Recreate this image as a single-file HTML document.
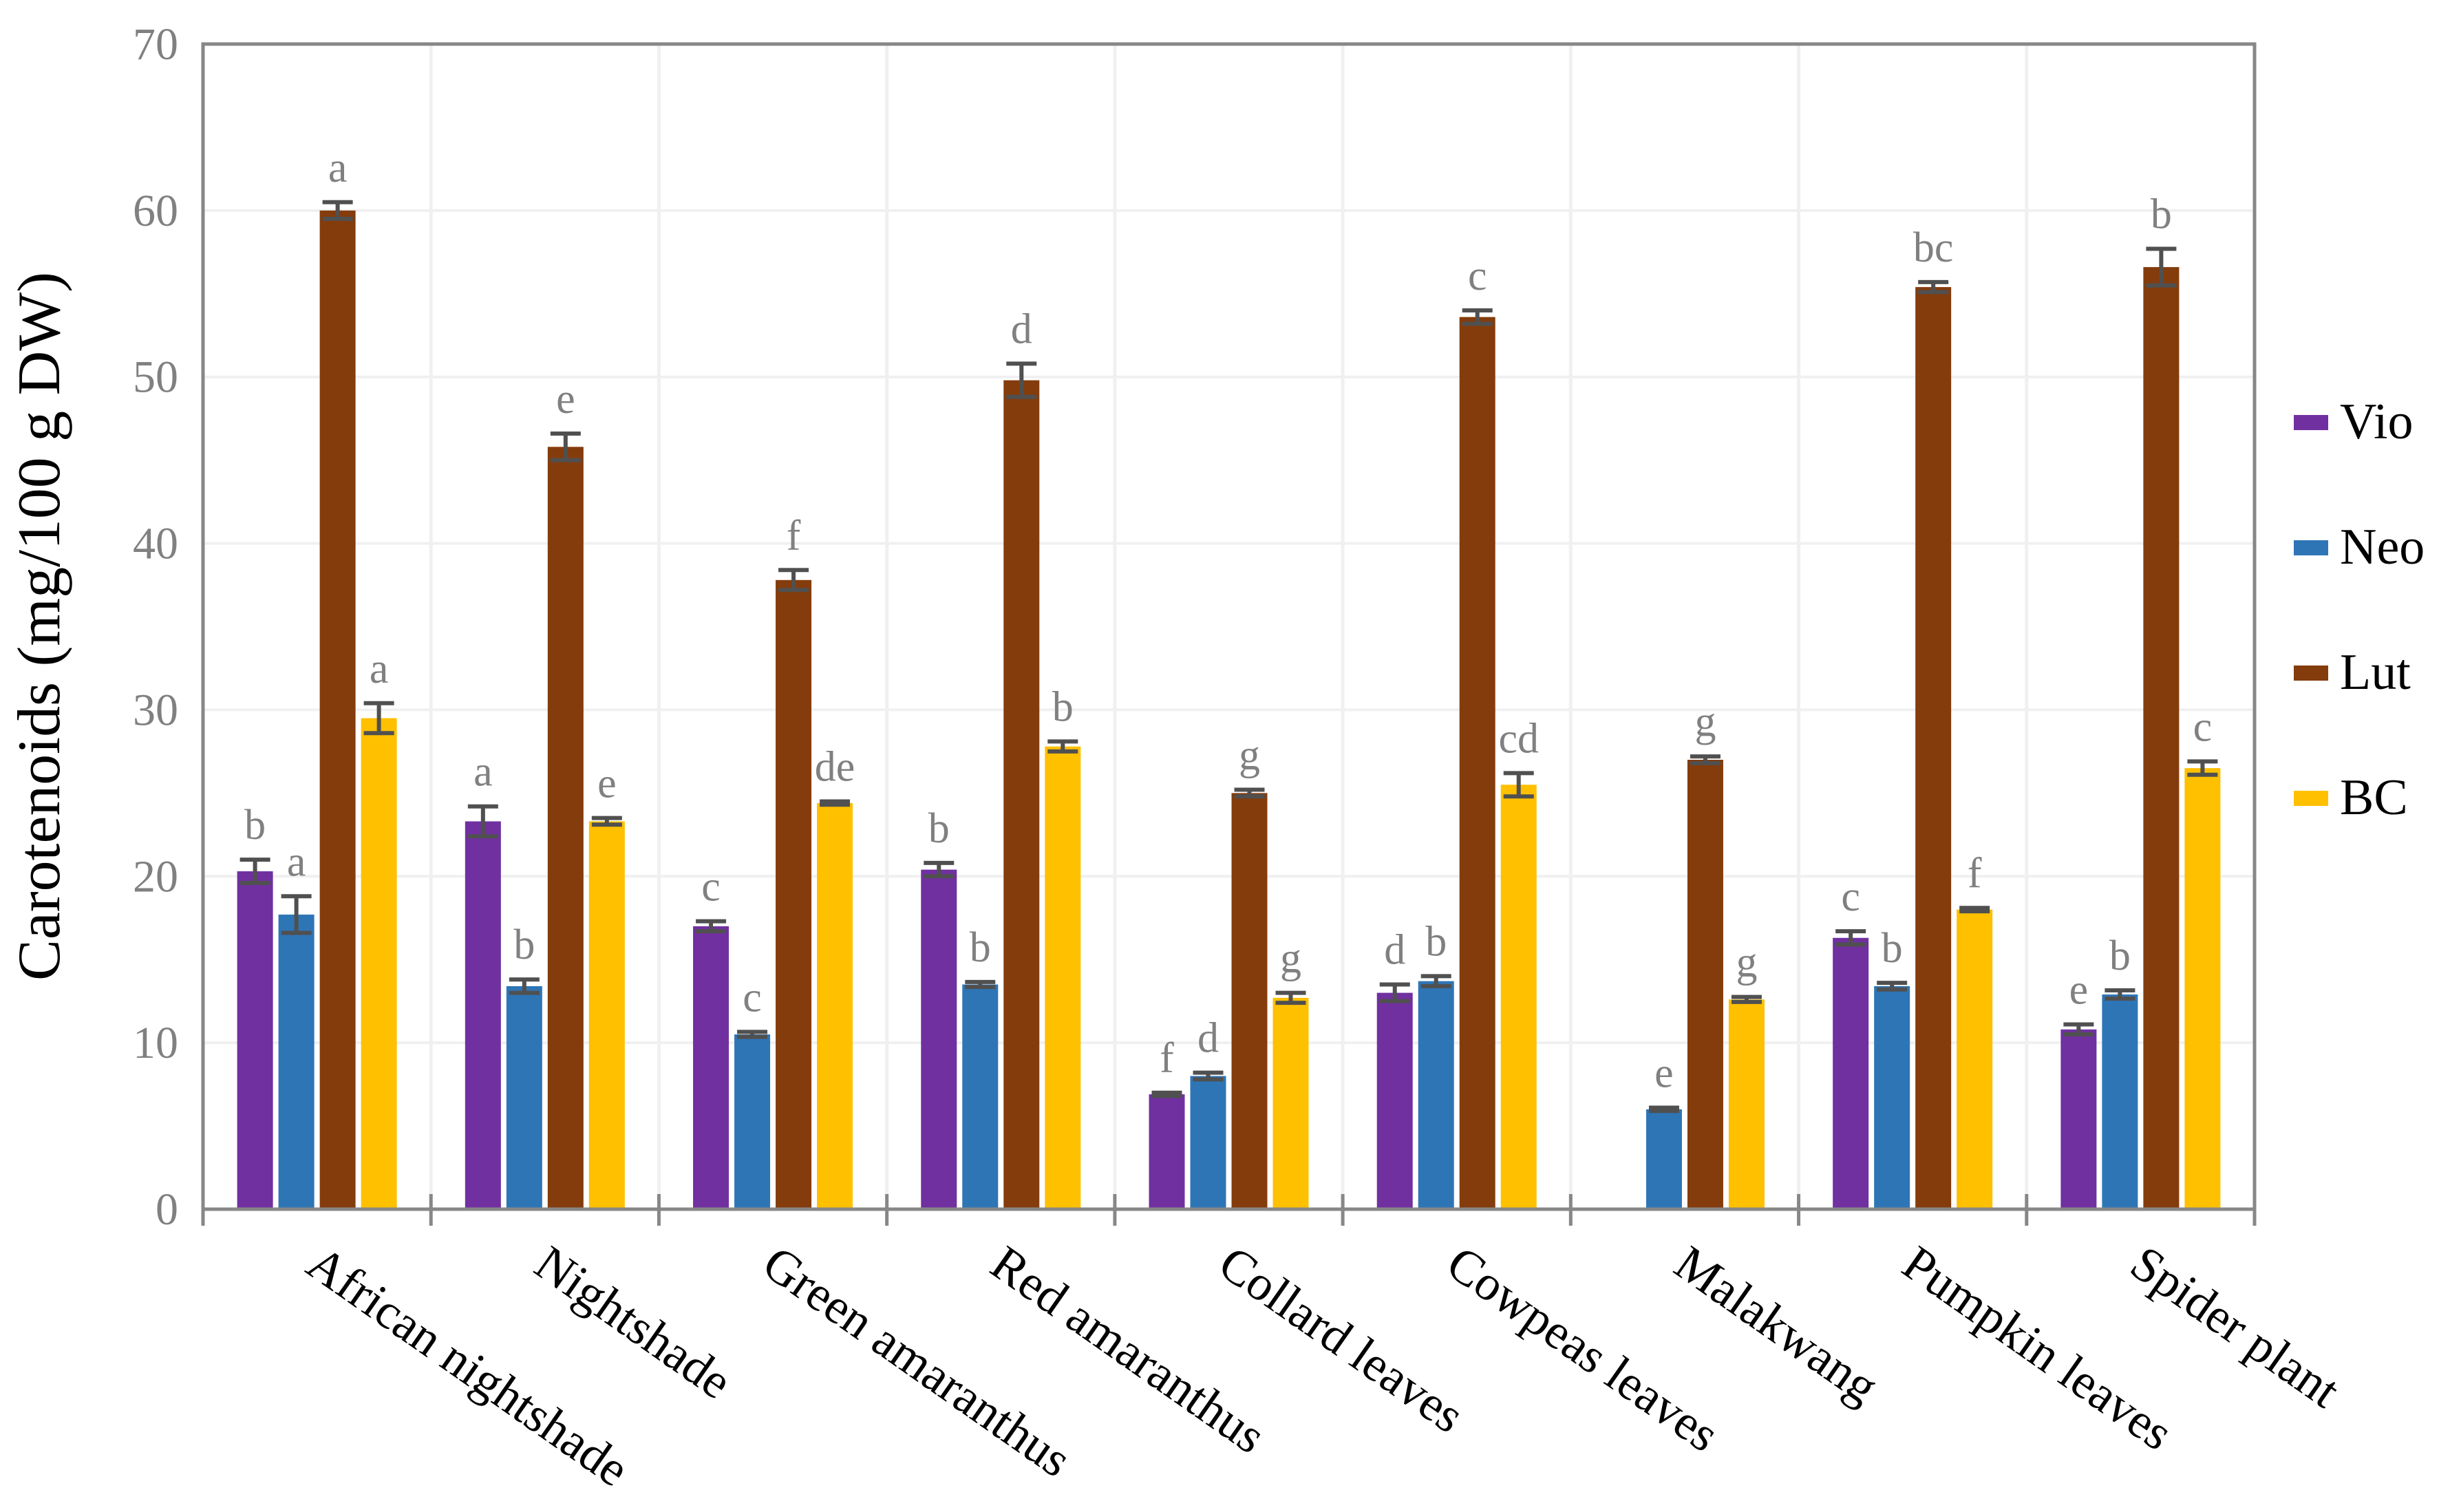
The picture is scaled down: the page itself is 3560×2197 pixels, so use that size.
<!DOCTYPE html>
<html><head><meta charset="utf-8"><style>
html,body{margin:0;padding:0;background:#fff;}
svg{display:block;font-family:"Liberation Serif",serif;}
</style></head><body>
<svg id="chart" width="3560" height="2197" viewBox="0 0 3560 2197" xmlns="http://www.w3.org/2000/svg">
<g id="grid"></g>
<g id="bars"></g>
<g id="axes"></g>
<text transform="translate(86,910) rotate(-90)" text-anchor="middle" font-size="88" fill="#000" textLength="1030" lengthAdjust="spacingAndGlyphs">Carotenoids (mg/100 g DW)</text>
<g id="legend"></g>
</svg>
<script>
const categories = ["African nightshade","Nightshade","Green amaranthus","Red amaranthus","Collard leaves","Cowpeas leaves","Malakwang","Pumpkin leaves","Spider plant"];
const seriesNames = ["Vio","Neo","Lut","BC"];
const seriesColors = ["#7030a0","#2e75b6","#843c0c","#ffc000"];
const vio = [20.3,23.3,17.0,20.4,6.9,13.0,0,16.3,10.8];
const neo = [17.7,13.4,10.5,13.5,8.0,13.7,6.0,13.4,12.9];
const lut = [60.0,45.8,37.8,49.8,25.0,53.6,27.0,55.4,56.6];
const bc  = [29.5,23.3,24.4,27.8,12.7,25.5,12.6,18.0,26.5];
const vioErr = [0.7,0.9,0.3,0.4,0.1,0.5,0,0.4,0.3];
const neoErr = [1.1,0.4,0.15,0.15,0.2,0.3,0.1,0.2,0.25];
const lutErr = [0.5,0.8,0.6,1.0,0.2,0.4,0.2,0.3,1.1];
const bcErr  = [0.9,0.2,0.1,0.3,0.3,0.7,0.15,0.1,0.4];
const vioLet = ["b","a","c","b","f","d","","c","e"];
const neoLet = ["a","b","c","b","d","b","e","b","b"];
const lutLet = ["a","e","f","d","g","c","g","bc","b"];
const bcLet  = ["a","e","de","b","g","cd","g","f","c"];
const yTicks = [0,10,20,30,40,50,60,70];

const series=[vio,neo,lut,bc], errs=[vioErr,neoErr,lutErr,bcErr], lets=[vioLet,neoLet,lutLet,bcLet];
const L=295,R=3276,T=64,B=1757,yMax=70;
const y=v=>B-(v/yMax)*(B-T);
const gw=(R-L)/categories.length;
const xc=i=>L+gw*(i+0.5);
const NS="http://www.w3.org/2000/svg";
function mk(tag,attrs,parent){const e=document.createElementNS(NS,tag);for(const k in attrs)e.setAttribute(k,attrs[k]);parent.appendChild(e);return e;}
const grid=document.getElementById('grid'),bars=document.getElementById('bars'),axes=document.getElementById('axes'),legend=document.getElementById('legend');
yTicks.forEach(t=>{
  if(t>0){const g=mk('line',{x1:L,x2:R,y1:y(t),y2:y(t),stroke:'#f0f0f0','stroke-width':4},grid);
  
  }
  const tx=mk('text',{x:L-36,y:y(t)+22,'text-anchor':'end','font-size':66,fill:'#808080'},axes);
  tx.textContent=t;
  
  
});
for(let i=1;i<categories.length;i++){
  const g=mk('line',{x1:L+gw*i,x2:L+gw*i,y1:T,y2:B,stroke:'#f0f0f0','stroke-width':5},grid);
  
  
}
const bw=52,pitch=60;
categories.forEach((c,i)=>{
  series.forEach((s,j)=>{
    const v=s[i];const cx=xc(i)+(j-1.5)*pitch;
    if(v>0){
      const r=mk('rect',{x:cx-bw/2,y:y(v),width:bw,height:B-y(v),fill:seriesColors[j]},bars);
      
      
      const e=errs[j][i];
      const eb=mk('path',{d:`M${cx},${y(v+e)}V${y(v-e)}M${cx-22},${y(v+e)}H${cx+22}M${cx-22},${y(v-e)}H${cx+22}`,stroke:'#505050','stroke-width':6,fill:'none'},bars);
      
      
    }
    if(lets[j][i]){
      const lt=mk('text',{x:cx,y:y(v+errs[j][i])-30,'text-anchor':'middle','font-size':62,fill:'#808080'},bars);
      lt.textContent=lets[j][i];
      
      
    }
  });
  const lb=mk('text',{transform:`translate(${xc(i)+10},${1805}) rotate(35)`,'font-size':72,fill:'#000'},axes);
  lb.textContent=c;
  lb.setAttribute('dominant-baseline','hanging');
  
  
});
const fr=mk('rect',{x:L,y:T,width:R-L,height:B-T,fill:'none',stroke:'#878787','stroke-width':5},axes);


for(let i=0;i<=categories.length;i++){
  const tk=mk('line',{x1:L+gw*i,x2:L+gw*i,y1:B-22,y2:B+24,stroke:'#878787','stroke-width':5},axes);
  
  
}
seriesNames.forEach((n,j)=>{
  const ly=613+j*182;
  const g=mk('g',{},legend);
  
  
  mk('rect',{x:3333,y:ly-10,width:50,height:22,fill:seriesColors[j]},g);
  const t=mk('text',{x:3400,y:ly+24,'font-size':74,fill:'#000'},g);
  t.textContent=n;
});
</script>
</body></html>
